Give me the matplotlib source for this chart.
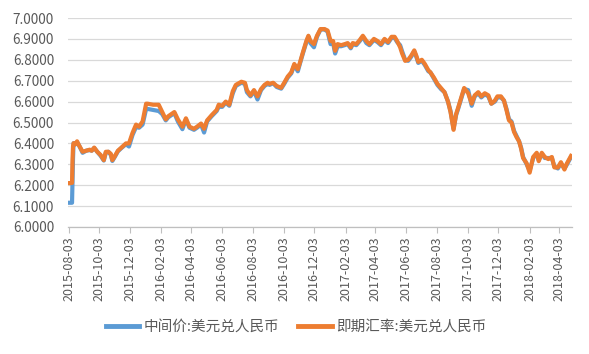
import pandas as pd
import matplotlib
matplotlib.use("Agg")
import matplotlib.pyplot as plt

plt.rcParams['font.family'] = ['Noto Sans CJK SC', 'DejaVu Sans']

# ---------------------------------------------------------------
# DATA
# ---------------------------------------------------------------
dates = [
    "2015-08-03", "2015-08-07", "2015-08-10", "2015-08-11", "2015-08-12", "2015-08-13",
    "2015-08-17", "2015-08-20", "2015-08-24", "2015-08-31", "2015-09-07", "2015-09-14",
    "2015-09-18", "2015-09-23", "2015-09-29", "2015-10-06", "2015-10-12", "2015-10-16",
    "2015-10-21", "2015-10-26", "2015-10-29", "2015-11-02", "2015-11-09", "2015-11-16",
    "2015-11-25", "2015-12-01", "2015-12-08", "2015-12-15", "2015-12-21", "2015-12-28",
    "2016-01-04", "2016-01-07", "2016-01-18", "2016-01-29", "2016-02-05", "2016-02-12",
    "2016-02-17", "2016-02-29", "2016-03-07", "2016-03-16", "2016-03-23", "2016-03-30",
    "2016-04-08", "2016-04-14", "2016-04-22", "2016-04-28", "2016-05-04", "2016-05-13",
    "2016-05-23", "2016-05-27", "2016-06-03", "2016-06-10", "2016-06-17", "2016-06-24",
    "2016-06-30", "2016-07-11", "2016-07-18", "2016-07-22", "2016-07-29", "2016-08-05",
    "2016-08-12", "2016-08-19", "2016-08-26", "2016-09-01", "2016-09-05", "2016-09-12",
    "2016-09-19", "2016-09-28", "2016-10-04", "2016-10-11", "2016-10-18", "2016-10-24",
    "2016-10-31", "2016-11-04", "2016-11-10", "2016-11-17", "2016-11-21", "2016-11-25",
    "2016-12-02", "2016-12-08", "2016-12-15", "2016-12-23", "2016-12-29", "2017-01-04",
    "2017-01-09", "2017-01-13", "2017-01-18", "2017-01-25", "2017-02-01", "2017-02-07",
    "2017-02-13", "2017-02-17", "2017-02-24", "2017-03-03", "2017-03-09", "2017-03-16",
    "2017-03-22", "2017-03-31", "2017-04-07", "2017-04-14", "2017-04-21", "2017-04-28",
    "2017-05-05", "2017-05-11", "2017-05-16", "2017-05-22", "2017-05-26", "2017-06-01",
    "2017-06-07", "2017-06-13", "2017-06-19", "2017-06-23", "2017-06-27", "2017-07-04",
    "2017-07-10", "2017-07-17", "2017-07-21", "2017-07-28", "2017-08-04", "2017-08-11",
    "2017-08-18", "2017-08-25", "2017-08-30", "2017-09-05", "2017-09-10", "2017-09-14",
    "2017-09-21", "2017-09-26", "2017-10-04", "2017-10-11", "2017-10-17", "2017-10-24",
    "2017-10-30", "2017-11-06", "2017-11-13", "2017-11-19", "2017-11-26", "2017-12-01",
    "2017-12-08", "2017-12-14", "2017-12-19", "2017-12-24", "2017-12-29", "2018-01-03",
    "2018-01-08", "2018-01-13", "2018-01-17", "2018-01-21", "2018-01-28", "2018-02-03",
    "2018-02-10", "2018-02-17", "2018-02-21", "2018-02-27", "2018-03-05", "2018-03-12",
    "2018-03-19", "2018-03-24", "2018-03-31", "2018-04-06", "2018-04-13", "2018-04-17",
    "2018-04-26",
]

spot = [
    6.210, 6.210, 6.211, 6.323, 6.387, 6.401,
    6.396, 6.410, 6.390, 6.360, 6.365, 6.370,
    6.365, 6.380, 6.360, 6.344, 6.320, 6.360,
    6.360, 6.350, 6.320, 6.335, 6.365, 6.380,
    6.400, 6.400, 6.450, 6.490, 6.480, 6.505,
    6.590, 6.590, 6.585, 6.585, 6.550, 6.515,
    6.530, 6.550, 6.515, 6.480, 6.520, 6.480,
    6.470, 6.480, 6.495, 6.470, 6.510, 6.535,
    6.560, 6.585, 6.580, 6.600, 6.585, 6.650,
    6.680, 6.695, 6.690, 6.655, 6.630, 6.655,
    6.625, 6.660, 6.680, 6.690, 6.685, 6.690,
    6.675, 6.666, 6.690, 6.720, 6.740, 6.780,
    6.755, 6.785, 6.835, 6.890, 6.915, 6.890,
    6.875, 6.915, 6.947, 6.947, 6.940, 6.890,
    6.890, 6.843, 6.875, 6.870, 6.875, 6.880,
    6.860, 6.880, 6.875, 6.895, 6.915, 6.890,
    6.875, 6.900, 6.890, 6.875, 6.900, 6.885,
    6.910, 6.910, 6.890, 6.860, 6.830, 6.795,
    6.800, 6.820, 6.845, 6.820, 6.790, 6.800,
    6.780, 6.750, 6.740, 6.715, 6.685, 6.665,
    6.645, 6.600, 6.550, 6.465, 6.540, 6.570,
    6.625, 6.665, 6.640, 6.590, 6.630, 6.645,
    6.625, 6.640, 6.630, 6.590, 6.605, 6.625,
    6.625, 6.605, 6.560, 6.510, 6.500, 6.455,
    6.430, 6.410, 6.375, 6.330, 6.305, 6.260,
    6.335, 6.355, 6.315, 6.355, 6.335, 6.325,
    6.335, 6.285, 6.285, 6.310, 6.275, 6.300,
    6.340,
]

central = [
    6.116, 6.116, 6.116, 6.230, 6.331, 6.401,
    6.396, 6.405, 6.390, 6.355, 6.365, 6.368,
    6.365, 6.378, 6.360, 6.340, 6.318, 6.355,
    6.360, 6.345, 6.316, 6.332, 6.362, 6.378,
    6.396, 6.385, 6.440, 6.478, 6.475, 6.490,
    6.565, 6.565, 6.560, 6.555, 6.540, 6.510,
    6.525, 6.545, 6.505, 6.468, 6.515, 6.475,
    6.465, 6.475, 6.490, 6.452, 6.505, 6.530,
    6.555, 6.575, 6.575, 6.595, 6.580, 6.640,
    6.675, 6.690, 6.685, 6.645, 6.625, 6.650,
    6.610, 6.655, 6.675, 6.685, 6.680, 6.688,
    6.670, 6.662, 6.685, 6.715, 6.735, 6.775,
    6.745, 6.780, 6.830, 6.885, 6.910, 6.880,
    6.860, 6.910, 6.945, 6.945, 6.935, 6.875,
    6.880, 6.830, 6.865, 6.865, 6.870, 6.875,
    6.855, 6.875, 6.870, 6.890, 6.910, 6.880,
    6.870, 6.895, 6.885, 6.870, 6.895, 6.880,
    6.905, 6.905, 6.885, 6.870, 6.840, 6.800,
    6.795, 6.815, 6.840, 6.815, 6.785, 6.795,
    6.775, 6.745, 6.740, 6.710, 6.680, 6.660,
    6.645, 6.600, 6.555, 6.470, 6.535, 6.565,
    6.620, 6.660, 6.655, 6.580, 6.625, 6.640,
    6.620, 6.635, 6.625, 6.590, 6.600, 6.620,
    6.620, 6.605, 6.565, 6.515, 6.505, 6.460,
    6.435, 6.410, 6.380, 6.335, 6.300, 6.270,
    6.330, 6.350, 6.320, 6.350, 6.330, 6.330,
    6.330, 6.290, 6.280, 6.305, 6.280, 6.295,
    6.335,
]

tick_labels = [
    "2015-08-03", "2015-10-03", "2015-12-03", "2016-02-03", "2016-04-03", "2016-06-03",
    "2016-08-03", "2016-10-03", "2016-12-03", "2017-02-03", "2017-04-03", "2017-06-03",
    "2017-08-03", "2017-10-03", "2017-12-03", "2018-02-03", "2018-04-03",
]

y_ticks = [6.0, 6.1, 6.2, 6.3, 6.4, 6.5, 6.6, 6.7, 6.8, 6.9, 7.0]

series_names = ["中间价:美元兑人民币", "即期汇率:美元兑人民币"]

# ---------------------------------------------------------------
# PLOT
# ---------------------------------------------------------------
df = pd.DataFrame({"date": pd.to_datetime(dates), "central": central, "spot": spot})

fig = plt.figure(figsize=(5.89, 3.54), dpi=100)
ax = fig.add_axes([68 / 589, 1 - 227 / 354, (572 - 68) / 589, (227 - 18) / 354])

ax.plot(df["date"], df["central"], color="#5B9BD5", linewidth=3.0,
        solid_joinstyle="round", label=series_names[0], zorder=3)
ax.plot(df["date"], df["spot"], color="#ED7D31", linewidth=3.0,
        solid_joinstyle="round", label=series_names[1], zorder=4)

ax.set_ylim(6.0, 7.0)
ax.set_yticks(y_ticks)
ax.set_yticklabels(["%.4f" % v for v in y_ticks])
ax.set_xlim(pd.Timestamp("2015-08-02"), pd.Timestamp("2018-04-28"))
ax.set_xticks(pd.to_datetime(tick_labels))
ax.set_xticklabels(tick_labels, rotation=90)

ax.grid(axis="y", color="#D9D9D9", linewidth=0.9)
ax.set_axisbelow(True)
for s in ["top", "right", "left"]:
    ax.spines[s].set_visible(False)
ax.spines["bottom"].set_color("#BFBFBF")
ax.spines["bottom"].set_linewidth(0.9)

ax.tick_params(axis="y", length=0, pad=10, labelsize=9.8, labelcolor="#595959")
ax.tick_params(axis="x", length=4, color="#BFBFBF", pad=3, labelsize=9, labelcolor="#595959")

leg = fig.legend(loc="center", bbox_to_anchor=(296 / 589, 1 - 327 / 354), ncol=2,
                 frameon=False, fontsize=10.5, handlelength=2.3, columnspacing=1.3,
                 handletextpad=0.3)
for line in leg.get_lines():
    line.set_linewidth(3.5)
for t in leg.get_texts():
    t.set_color("#595959")

plt.savefig("out.png", dpi=100)
plt.close()
